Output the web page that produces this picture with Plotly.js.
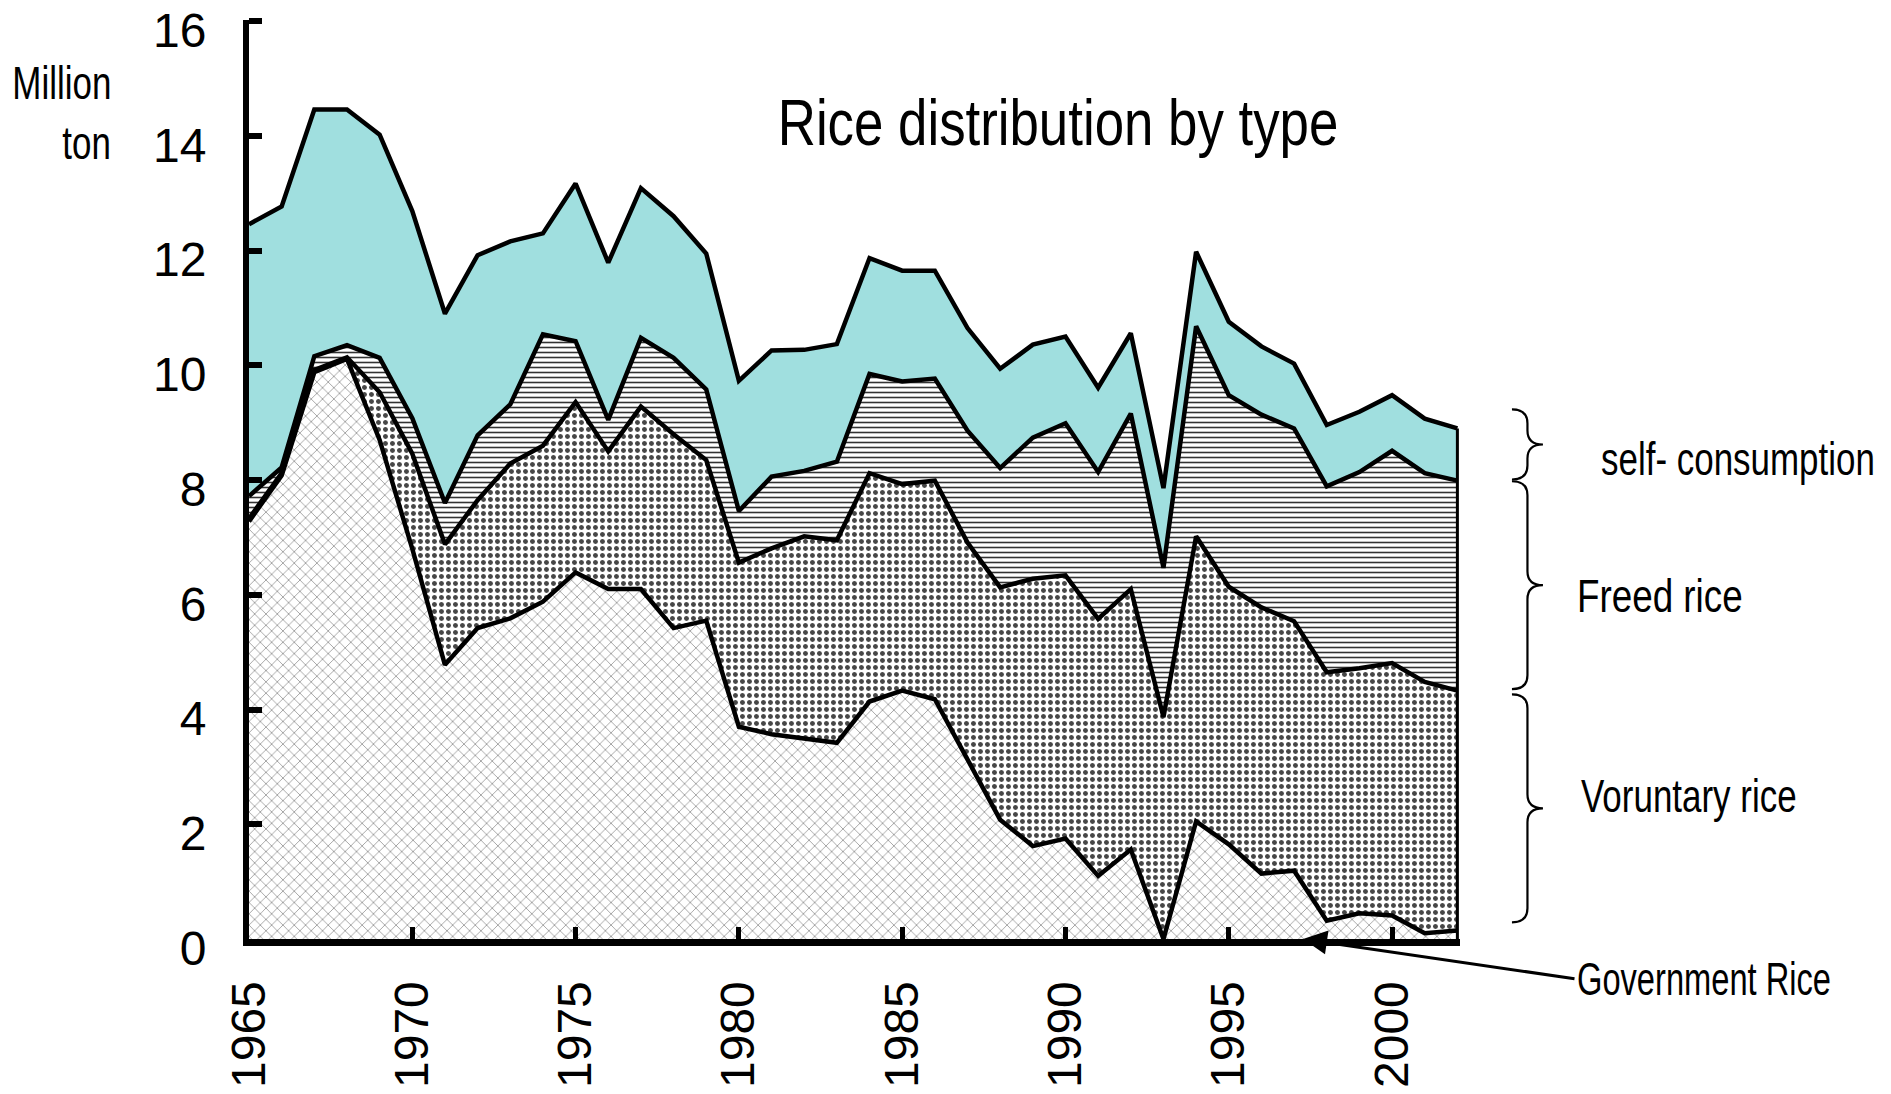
<!DOCTYPE html>
<html>
<head>
<meta charset="utf-8">
<script src="https://cdn.plot.ly/plotly-3.0.1.min.js"></script>
<style>
  html, body { margin: 0; padding: 0; background: #fff; }
  #grafico { width: 1891px; height: 1094px; }
</style>
</head>
<body>
<div id="grafico"></div>
<script>
const years = [1965, 1966, 1967, 1968, 1969, 1970, 1971, 1972, 1973, 1974,
               1975, 1976, 1977, 1978, 1979, 1980, 1981, 1982, 1983, 1984,
               1985, 1986, 1987, 1988, 1989, 1990, 1991, 1992, 1993, 1994,
               1995, 1996, 1997, 1998, 1999, 2000, 2001, 2002];

// million ton
const governmentRice = [7.28, 8.08, 9.88, 10.11, 8.70, 6.80, 4.78, 5.42, 5.59, 5.88,
                        6.39, 6.10, 6.10, 5.42, 5.55, 3.70, 3.57, 3.50, 3.42, 4.14,
                        4.33, 4.18, 3.14, 2.08, 1.62, 1.75, 1.10, 1.56, 0.00, 2.05,
                        1.65, 1.14, 1.19, 0.32, 0.45, 0.41, 0.10, 0.15];
const voluntaryRice = [0.05, 0.04, 0.04, 0.03, 0.83, 1.66, 2.10, 2.23, 2.70, 2.72,
                       2.97, 2.40, 3.18, 3.38, 2.80, 2.86, 3.24, 3.52, 3.53, 3.98,
                       3.60, 3.81, 3.77, 4.05, 4.66, 4.59, 4.48, 4.54, 3.87, 4.97,
                       4.49, 4.64, 4.35, 4.33, 4.27, 4.40, 4.38, 4.18];
const freedRice = [0.39, 0.10, 0.24, 0.21, 0.60, 0.62, 0.72, 1.13, 1.03, 1.94,
                   1.06, 0.55, 1.20, 1.33, 1.23, 0.90, 1.25, 1.14, 1.37, 1.73,
                   1.79, 1.78, 1.95, 2.08, 2.46, 2.65, 2.56, 3.06, 2.60, 3.66,
                   3.34, 3.36, 3.36, 3.24, 3.42, 3.70, 3.64, 3.66];
const selfConsumption = [4.74, 4.55, 4.30, 4.11, 3.89, 3.61, 3.30, 3.14, 2.84, 1.76,
                         2.75, 2.74, 2.61, 2.47, 2.37, 2.27, 2.20, 2.11, 2.05, 2.02,
                         1.93, 1.88, 1.79, 1.73, 1.62, 1.51, 1.47, 1.40, 1.39, 1.30,
                         1.28, 1.19, 1.13, 1.07, 1.05, 0.97, 0.95, 0.91];

const yTicks = [0, 2, 4, 6, 8, 10, 12, 14, 16];
const xTicks = [1965, 1970, 1975, 1980, 1985, 1990, 1995, 2000];

// no narrow font installed: Liberation Sans squeezed afterwards
const FONT = "'Liberation Sans', Arial, sans-serif";

// plot area in pixels
const L = 249, R = 1460, T = 20, B = 939;
const px2x = p => (p - L) / (R - L);
const px2y = p => (B - p) / (B - T);
const v2py = v => B - v * (B - T) / 16;

function layer(y, name, pattern, fill) {
    return {
        x: years, y: y, name: name,
        type: 'scatter', mode: 'lines',
        stackgroup: 'rice',
        line: { color: 'black', width: 4.5 },
        fillcolor: fill,
        fillpattern: pattern,
        hoverinfo: 'skip'
    };
}

let traces = [
    layer(governmentRice, 'Government Rice',
          { shape: 'x', fgcolor: '#999999', bgcolor: 'white', size: 8, solidity: 0.2 }, 'white'),
    layer(voluntaryRice, 'Voruntary rice',
          { shape: '.', fgcolor: '#474747', bgcolor: 'white', size: 7, solidity: 0.4 }, 'white'),
    layer(freedRice, 'Freed rice',
          { shape: '-', fgcolor: '#333333', bgcolor: 'white', size: 5, solidity: 0.32 }, 'white'),
    layer(selfConsumption, 'self- consumption', { shape: '' }, '#a0dfdf')
];

// closing edge at the last year
let last = years.length - 1;
let lastTotal = governmentRice[last] + voluntaryRice[last] + freedRice[last] + selfConsumption[last];
traces.push({
    x: [years[last], years[last]], y: [0, lastTotal],
    type: 'scatter', mode: 'lines',
    line: { color: 'black', width: 3 },
    hoverinfo: 'skip', showlegend: false
});

// curly braces on the right, spans in million ton
function brace(v0, v1) {
    let xl = 1512, xr = 1543, xm = (xl + xr) / 2;
    let yt = v2py(v1), yb = v2py(v0), yc = (yt + yb) / 2;
    let r = Math.min(14, (yb - yt) / 4);
    let P = (x, y) => px2x(x).toFixed(4) + ',' + px2y(y).toFixed(4);
    return {
        type: 'path', xref: 'paper', yref: 'paper',
        line: { color: 'black', width: 2.2 },
        path: 'M' + P(xl, yt) + ' Q' + P(xm, yt) + ' ' + P(xm, yt + r) +
              ' L' + P(xm, yc - r) + ' Q' + P(xm, yc) + ' ' + P(xr, yc) +
              ' Q' + P(xm, yc) + ' ' + P(xm, yc + r) +
              ' L' + P(xm, yb - r) + ' Q' + P(xm, yb) + ' ' + P(xl, yb)
    };
}

// label text, x and y in pixels, anchor side
function label(text, xPx, yPx, anchor) {
    return {
        text: text, xref: 'paper', yref: 'paper',
        x: px2x(xPx), y: px2y(yPx), xanchor: anchor, yanchor: 'middle', align: anchor,
        borderpad: 0,
        showarrow: false, font: { family: FONT, size: 46, color: 'black' }
    };
}

// how much each label gets squeezed
const squeezeBy = {
    'self- consumption': 0.76,
    'Freed rice': 0.8,
    'Voruntary rice': 0.76,
    'Government Rice': 0.71,
    'Million': 0.76,
    'ton': 0.76
};

let layout = {
    width: 1891, height: 1094,
    margin: { l: L, r: 1891 - R, t: T, b: 1094 - B },
    paper_bgcolor: 'white', plot_bgcolor: 'white',
    showlegend: false,
    font: { family: FONT, size: 48, color: 'black' },
    title: {
        text: 'Rice distribution by type',
        xref: 'paper', yref: 'paper',
        x: px2x(1058), y: px2y(123), xanchor: 'center', yanchor: 'middle',
        font: { family: FONT, size: 64, color: 'black' }
    },
    xaxis: {
        range: [1965, 2002.08],
        tickvals: xTicks, ticktext: xTicks.map(String),
        tickangle: -90,
        ticks: 'inside', ticklen: 12, tickwidth: 5, tickcolor: 'black',
        ticklabelstandoff: 16,
        showline: true, linewidth: 7, linecolor: 'black',
        showgrid: false, zeroline: false,
        tickfont: { family: FONT, size: 48, color: 'black' }
    },
    yaxis: {
        range: [0, 16.02],
        tickvals: yTicks, ticktext: yTicks.map(String),
        ticks: 'inside', ticklen: 13, tickwidth: 6, tickcolor: 'black',
        ticklabelstandoff: 27,
        ticklabelshift: 9,
        showline: true, linewidth: 6, linecolor: 'black',
        showgrid: false, zeroline: false,
        tickfont: { family: FONT, size: 48, color: 'black' }
    },
    shapes: [
        brace(8.0, 9.22),
        brace(4.35, 7.97),
        brace(0.29, 4.26)
    ],
    annotations: [
        label('self- consumption', 1600, 459, 'left'),
        label('Freed rice', 1576, 596, 'left'),
        label('Voruntary rice', 1580, 796, 'left'),
        label('Government Rice', 1576, 979, 'left'),
        {
            // arrow from the label to the x axis
            x: 1965 + (1303 - L) / ((R - L) / 37.08), y: 0,
            xref: 'x', yref: 'y',
            ax: 1576 - 1303, ay: 979 - B,
            axref: 'pixel', ayref: 'pixel',
            text: '', showarrow: true,
            arrowhead: 2, arrowsize: 1.6, arrowwidth: 3, arrowcolor: 'black'
        },
        label('Million', 112, 83, 'right'),
        label('ton', 112, 143, 'right')
    ]
};

// squeeze text horizontally so it looks like the condensed face of the original
function squeeze(t, factor) {
    let w = t.getComputedTextLength();
    if (w > 0) {
        t.setAttribute('textLength', (w * factor).toFixed(1));
        t.setAttribute('lengthAdjust', 'spacingAndGlyphs');
    }
}

// same for labels, with a transform that keeps the anchored side in place
function squeezeLabel(t, factor) {
    let x0 = parseFloat(t.getAttribute('x')) || 0;
    t.setAttribute('transform',
        'translate(' + x0 + ',0) scale(' + factor + ',1) translate(' + (-x0) + ',0)');
}

Plotly.newPlot('grafico', traces, layout, { staticPlot: true }).then(gd => {
    gd.querySelectorAll('text.xtick, text.ytick').forEach(t => squeeze(t, 0.74));
    gd.querySelectorAll('text.gtitle').forEach(t => squeeze(t, 0.825));
    gd.querySelectorAll('text.annotation-text').forEach(t => {
        let f = squeezeBy[t.textContent];
        if (f) squeezeLabel(t, f);
    });
});
</script>
</body>
</html>
